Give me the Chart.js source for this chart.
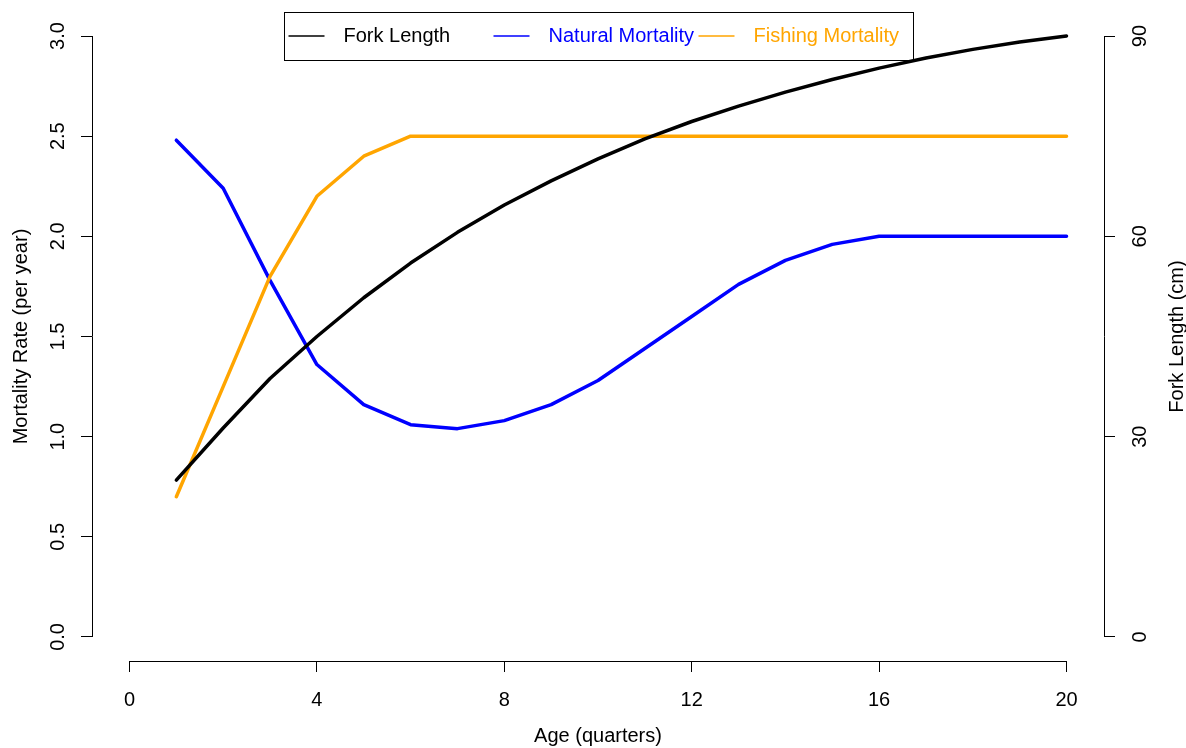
<!DOCTYPE html>
<html>
<head>
<meta charset="utf-8">
<script src="https://cdn.jsdelivr.net/npm/chart.js@4.4.0/dist/chart.umd.min.js"></script>
<style>
  html, body { margin: 0; padding: 0; background: #fff; }
  #wrap { width: 1186px; height: 748px; }
</style>
</head>
<body>
<div id="wrap"><canvas id="grafico"></canvas></div>
<script>
// valores (idade em trimestres)
const ages = [1, 2, 3, 4, 5, 6, 7, 8, 9, 10, 11, 12, 13, 14, 15, 16, 17, 18, 19, 20];
const forkLength = [23.5, 31.3, 38.7, 45.0, 50.8, 56.0, 60.6, 64.7, 68.3, 71.6, 74.6, 77.2, 79.5, 81.6, 83.5, 85.2, 86.7, 88.0, 89.1, 90.0];
const naturalMortality = [2.48, 2.24, 1.78, 1.36, 1.16, 1.06, 1.04, 1.08, 1.16, 1.28, 1.44, 1.60, 1.76, 1.88, 1.96, 2.00, 2.00, 2.00, 2.00, 2.00];
const fishingMortality = [0.70, 1.25, 1.80, 2.20, 2.40, 2.50, 2.50, 2.50, 2.50, 2.50, 2.50, 2.50, 2.50, 2.50, 2.50, 2.50, 2.50, 2.50, 2.50, 2.50];

// ticks dos eixos
const ageTicks = [0, 4, 8, 12, 16, 20];
const mortalityTicks = [0, 0.5, 1.0, 1.5, 2.0, 2.5, 3.0];
const lengthTicks = [0, 30, 60, 90];

Chart.defaults.font.family = '"Liberation Sans", Arial, sans-serif';
Chart.defaults.font.size = 20;
Chart.defaults.color = '#000';

const pontos = ys => ages.map((a, i) => ({ x: a, y: ys[i] }));
const fixaTicks = lista => scale => { scale.ticks = lista.map(v => ({ value: v })); };
const alinha = p => Math.round(p - 0.5) + 0.5;
// tamanho fixo do eixo e sem o recuo que o Chart.js cria pelos rótulos
const tamanho = (prop, valor) => s => {
  s[prop] = valor;
  s.paddingTop = 0; s.paddingBottom = 0; s.paddingLeft = 0; s.paddingRight = 0;
};

// linha do eixo só entre o primeiro e o último tick, como no R
const eixosR = {
  id: 'eixosR',
  afterDraw(chart) {
    const { ctx } = chart;
    const { x, y, y2 } = chart.scales;
    ctx.save();
    ctx.strokeStyle = '#000';
    ctx.lineWidth = 1;
    ctx.beginPath();
    const xb = alinha(x.top);
    ctx.moveTo(alinha(x.getPixelForValue(ageTicks[0])) - 0.5, xb);
    ctx.lineTo(alinha(x.getPixelForValue(ageTicks[ageTicks.length - 1])) + 0.5, xb);
    const yl = alinha(y.right);
    ctx.moveTo(yl, alinha(y.getPixelForValue(mortalityTicks[0])) + 0.5);
    ctx.lineTo(yl, alinha(y.getPixelForValue(mortalityTicks[mortalityTicks.length - 1])) - 0.5);
    const yr = alinha(y2.left);
    ctx.moveTo(yr, alinha(y2.getPixelForValue(lengthTicks[0])) + 0.5);
    ctx.lineTo(yr, alinha(y2.getPixelForValue(lengthTicks[lengthTicks.length - 1])) - 0.5);
    ctx.stroke();

    // título do eixo direito, lido de baixo para cima
    ctx.fillStyle = '#000';
    ctx.font = '20px "Liberation Sans", Arial, sans-serif';
    ctx.textAlign = 'center';
    ctx.textBaseline = 'middle';
    ctx.translate(y2.right - 9, (y2.top + y2.bottom) / 2);
    ctx.rotate(-Math.PI / 2);
    ctx.fillText('Fork Length (cm)', 0, 0);
    ctx.restore();
  }
};

// legenda horizontal com caixa, centrada no topo
const legendaR = {
  id: 'legendaR',
  afterDraw(chart) {
    const { ctx, chartArea } = chart;
    const sets = chart.data.datasets;
    ctx.save();
    ctx.font = '20px "Liberation Sans", Arial, sans-serif';
    const maxW = Math.max(...sets.map(d => ctx.measureText(d.label).width));
    const passo = maxW + 59.4;
    const largura = 5 + passo * (sets.length - 1) + 55 + maxW + 13.4;
    const esq = (chartArea.left + chartArea.right) / 2 - largura / 2;
    const topo = chartArea.top;
    const meio = topo + 24;
    ctx.strokeStyle = '#000';
    ctx.lineWidth = 1;
    ctx.strokeRect(Math.round(esq) + 0.5, topo + 0.5, Math.round(largura), 48);
    ctx.textAlign = 'left';
    ctx.textBaseline = 'middle';
    sets.forEach((d, i) => {
      const x0 = esq + 5 + passo * i;
      ctx.strokeStyle = d.borderColor;
      ctx.lineWidth = 1.5;
      ctx.beginPath();
      ctx.moveTo(x0, meio);
      ctx.lineTo(x0 + 36, meio);
      ctx.stroke();
      ctx.fillStyle = d.borderColor;
      ctx.fillText(d.label, x0 + 55, meio);
    });
    ctx.restore();
  }
};

const ctx = document.getElementById('grafico').getContext('2d');

const grafico = new Chart(ctx, {
  type: 'line',
  data: {
    datasets: [
      { label: 'Fork Length', data: pontos(forkLength), yAxisID: 'y2', borderColor: '#000000', order: 0 },
      { label: 'Natural Mortality', data: pontos(naturalMortality), yAxisID: 'y', borderColor: '#0000FF', order: 2 },
      { label: 'Fishing Mortality', data: pontos(fishingMortality), yAxisID: 'y', borderColor: '#FFA500', order: 1 }
    ]
  },
  options: {
    responsive: true,
    maintainAspectRatio: false,
    animation: false,
    layout: { padding: { top: 12, left: 0, right: 0, bottom: 0 } },
    elements: {
      line: { borderWidth: 3.5, tension: 0, borderCapStyle: 'round', borderJoinStyle: 'round' },
      point: { radius: 0, hoverRadius: 0 }
    },
    plugins: {
      legend: { display: false },
      tooltip: { enabled: false }
    },
    scales: {
      x: {
        type: 'linear',
        min: -0.8,
        max: 20.8,
        afterBuildTicks: fixaTicks(ageTicks),
        afterFit: tamanho('height', 87),
        border: { display: false },
        grid: { drawOnChartArea: false, drawTicks: true, tickLength: 11, tickColor: '#000' },
        ticks: { padding: 16, maxRotation: 0, color: '#000' },
        title: { display: true, text: 'Age (quarters)', padding: { top: 0, bottom: 0 }, color: '#000' }
      },
      y: {
        type: 'linear',
        position: 'left',
        min: -0.12,
        max: 3.12,
        afterBuildTicks: fixaTicks(mortalityTicks),
        afterFit: tamanho('width', 92),
        border: { display: false },
        grid: { drawOnChartArea: false, drawTicks: true, tickLength: 11, tickColor: '#000' },
        ticks: { padding: 9, minRotation: 90, maxRotation: 90, crossAlign: 'center', color: '#000',
                 callback: v => v.toFixed(1) },
        title: { display: true, text: 'Mortality Rate (per year)', padding: { top: 9, bottom: 0 }, color: '#000' }
      },
      y2: {
        type: 'linear',
        position: 'right',
        min: -3.6,
        max: 93.6,
        afterBuildTicks: fixaTicks(lengthTicks),
        afterFit: tamanho('width', 82),
        border: { display: false },
        grid: { drawOnChartArea: false, drawTicks: true, tickLength: 11, tickColor: '#000' },
        ticks: { padding: 14, minRotation: 90, maxRotation: 90, crossAlign: 'center', color: '#000',
                 callback: v => String(v) }
      }
    }
  },
  plugins: [eixosR, legendaR]
});
</script>
</body>
</html>
